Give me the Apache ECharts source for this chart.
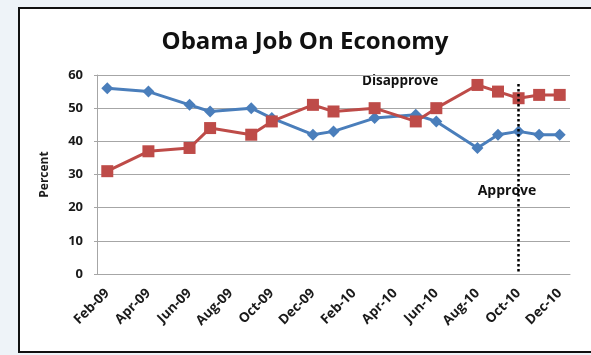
<!DOCTYPE html>
<html>
<head>
<meta charset="utf-8">
<script src="https://cdn.jsdelivr.net/npm/echarts@6/dist/echarts.min.js"></script>
<style>
  html, body { margin: 0; padding: 0; background: #eef3f8; }
  #chart { width: 591px; height: 355px; }
</style>
</head>
<body>
<div id="chart"></div>
<script>
// Monthly categories, Feb 2009 – Dec 2010
const months = ['Feb-09','Mar-09','Apr-09','May-09','Jun-09','Jul-09','Aug-09','Sep-09','Oct-09','Nov-09','Dec-09',
                'Jan-10','Feb-10','Mar-10','Apr-10','May-10','Jun-10','Jul-10','Aug-10','Sep-10','Oct-10','Nov-10','Dec-10'];
// Poll results (percent); null = no poll that month
const approve    = [56,null,55,null,51,49,null,50,47,null,42,43,null,47,null,48,46,null,38,42,43,42,42];
const disapprove = [31,null,37,null,38,44,null,42,46,null,51,49,null,50,null,46,50,null,57,55,53,54,54];
const yTicks = { min: 0, max: 60, interval: 10 };
const electionMonth = 'Oct-10';

const font = '"Open Sans", "DejaVu Sans", sans-serif';
const chart = echarts.init(document.getElementById('chart'), null, { renderer: 'canvas' });

chart.setOption({
  backgroundColor: '#eef3f8',
  animation: false,
  graphic: [
    // white chart panel with dark frame
    { type: 'rect', z: -10, shape: { x: 19, y: 8, width: 600, height: 344 },
      style: { fill: '#ffffff', stroke: '#111111', lineWidth: 2 } },
    { type: 'text', style: { text: 'Obama Job On Economy', x: 305, y: 42, font: 'bold 24px ' + font,
               fill: '#111111', textAlign: 'center', textVerticalAlign: 'middle' } },
    { type: 'text', style: { text: 'Disapprove', x: 400, y: 81, font: 'bold 13.5px ' + font,
               fill: '#111111', textAlign: 'center', textVerticalAlign: 'middle' } },
    { type: 'text', style: { text: 'Approve', x: 507, y: 191, font: 'bold 14px ' + font,
               fill: '#111111', textAlign: 'center', textVerticalAlign: 'middle' } }
  ],
  grid: { left: 97, right: 21, top: 75, bottom: 81 },
  xAxis: {
    type: 'category',
    data: months,
    boundaryGap: true,
    axisLine: { lineStyle: { color: '#a6a6a6', width: 1 } },
    axisTick: { show: false },
    axisLabel: {
      interval: 1, rotate: 45, margin: 17,
      fontFamily: font, fontWeight: 'bold', fontSize: 13.5, color: '#1a1a1a'
    }
  },
  yAxis: {
    type: 'value',
    min: yTicks.min, max: yTicks.max, interval: yTicks.interval,
    name: 'Percent', nameLocation: 'middle', nameGap: 46, nameRotate: 90,
    nameTextStyle: { fontFamily: font, fontWeight: 'bold', fontSize: 12, color: '#1a1a1a' },
    axisLine: { show: true, lineStyle: { color: '#a6a6a6', width: 1 } },
    axisTick: { show: true, length: 3, lineStyle: { color: '#a6a6a6' } },
    axisLabel: { fontFamily: font, fontWeight: 'bold', fontSize: 13, color: '#1a1a1a', margin: 14 },
    splitLine: { lineStyle: { color: '#a6a6a6', width: 1 } }
  },
  series: [
    {
      name: 'Approve', type: 'line', data: approve, connectNulls: true,
      symbol: 'diamond', symbolSize: 12,
      lineStyle: { color: '#4a7ebb', width: 3 },
      itemStyle: { color: '#4a7ebb' },
      z: 3
    },
    {
      name: 'Disapprove', type: 'line', data: disapprove, connectNulls: true,
      symbol: 'rect', symbolSize: 12,
      lineStyle: { color: '#be4b48', width: 3 },
      itemStyle: { color: '#be4b48' },
      z: 4,
      markLine: {
        silent: true, symbol: 'none', label: { show: false },
        lineStyle: { color: '#000000', type: [2.5, 2.5], width: 2.5 },
        data: [[{ coord: [electionMonth, 57.3] }, { coord: [electionMonth, 0] }]]
      }
    }
  ]
});
</script>
</body>
</html>
